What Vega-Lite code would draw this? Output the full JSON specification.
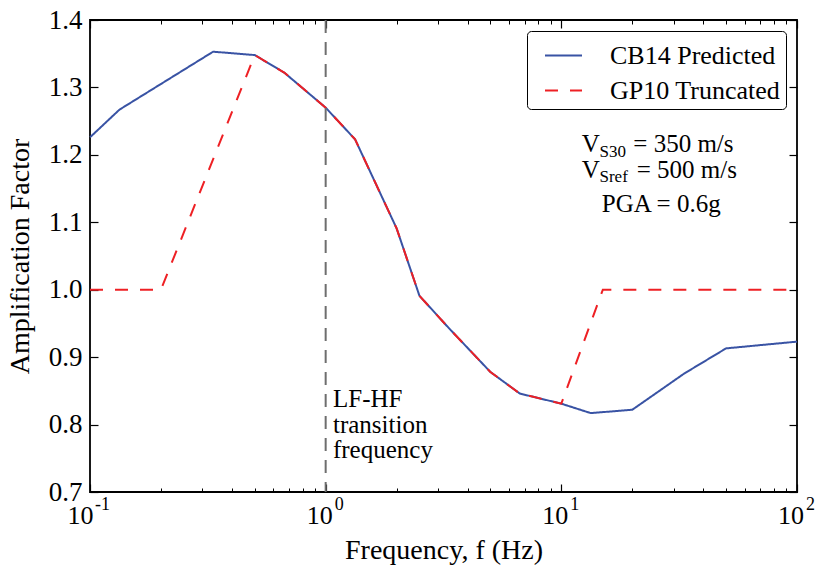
{
  "$schema": "https://vega.github.io/schema/vega-lite/v6.json",
  "autosize": "none",
  "width": 707,
  "height": 472,
  "padding": {"left": 90, "top": 20, "right": 22, "bottom": 80},
  "background": "white",
  "config": {
    "font": "Liberation Serif",
    "view": {"stroke": "black", "strokeWidth": 1.8},
    "axis": {"grid": false, "domain": false, "labelColor": "black", "tickColor": "black", "labelFontSize": 27, "titleFontSize": 28, "titleFontWeight": "normal", "titleColor": "black", "labelFlush": false, "labelOverlap": false, "labelBound": false}
  },
  "datasets": {
    "curves": [
      {"series": "CB14 Predicted", "f": 0.1, "amp": 1.226},
      {"series": "CB14 Predicted", "f": 0.1333, "amp": 1.267},
      {"series": "CB14 Predicted", "f": 0.333, "amp": 1.353},
      {"series": "CB14 Predicted", "f": 0.5, "amp": 1.348},
      {"series": "CB14 Predicted", "f": 0.667, "amp": 1.322},
      {"series": "CB14 Predicted", "f": 1.0, "amp": 1.270},
      {"series": "CB14 Predicted", "f": 1.333, "amp": 1.223},
      {"series": "CB14 Predicted", "f": 2.0, "amp": 1.091},
      {"series": "CB14 Predicted", "f": 2.5, "amp": 0.991},
      {"series": "CB14 Predicted", "f": 3.333, "amp": 0.943},
      {"series": "CB14 Predicted", "f": 5.0, "amp": 0.878},
      {"series": "CB14 Predicted", "f": 6.667, "amp": 0.846},
      {"series": "CB14 Predicted", "f": 10.0, "amp": 0.831},
      {"series": "CB14 Predicted", "f": 13.33, "amp": 0.817},
      {"series": "CB14 Predicted", "f": 20.0, "amp": 0.822},
      {"series": "CB14 Predicted", "f": 33.33, "amp": 0.876},
      {"series": "CB14 Predicted", "f": 50.0, "amp": 0.913},
      {"series": "CB14 Predicted", "f": 100.0, "amp": 0.923},
      {"series": "GP10 Truncated", "f": 0.1, "amp": 1.0},
      {"series": "GP10 Truncated", "f": 0.2, "amp": 1.0},
      {"series": "GP10 Truncated", "f": 0.5, "amp": 1.348},
      {"series": "GP10 Truncated", "f": 0.667, "amp": 1.322},
      {"series": "GP10 Truncated", "f": 1.0, "amp": 1.270},
      {"series": "GP10 Truncated", "f": 1.333, "amp": 1.223},
      {"series": "GP10 Truncated", "f": 2.0, "amp": 1.091},
      {"series": "GP10 Truncated", "f": 2.5, "amp": 0.991},
      {"series": "GP10 Truncated", "f": 3.333, "amp": 0.943},
      {"series": "GP10 Truncated", "f": 5.0, "amp": 0.878},
      {"series": "GP10 Truncated", "f": 6.667, "amp": 0.846},
      {"series": "GP10 Truncated", "f": 10.0, "amp": 0.831},
      {"series": "GP10 Truncated", "f": 15.0, "amp": 1.0},
      {"series": "GP10 Truncated", "f": 100.0, "amp": 1.0}
    ],
    "mainText": [
      {"t": "V", "f": 12.2, "amp": 1.2042},
      {"t": "= 350 m/s", "f": 20.2, "amp": 1.2042},
      {"t": "V", "f": 12.2, "amp": 1.1652},
      {"t": "= 500 m/s", "f": 20.88, "amp": 1.1652},
      {"t": "PGA = 0.6g", "f": 14.84, "amp": 1.1148}
    ],
    "subText": [
      {"t": "S30", "f": 14.52, "amp": 1.1973},
      {"t": "Sref", "f": 14.52, "amp": 1.1593}
    ],
    "noteText": [
      {"t": "LF-HF", "f": 1.074, "amp": 0.8263},
      {"t": "transition", "f": 1.074, "amp": 0.7868},
      {"t": "frequency", "f": 1.074, "amp": 0.7497}
    ],
    "exponents": [
      {"t": "-1", "f": 0.1, "amp": 0.7},
      {"t": "0", "f": 1, "amp": 0.7},
      {"t": "1", "f": 10, "amp": 0.7},
      {"t": "2", "f": 100, "amp": 0.7}
    ],
    "transition": [{"f": 1.0}]
  },
  "resolve": {"axis": {"x": "independent", "y": "independent"}},
  "layer": [
    {
      "data": {"name": "curves"},
      "transform": [{"filter": "datum.series == 'CB14 Predicted'"}],
      "mark": {"type": "line", "strokeWidth": 2},
      "encoding": {
        "x": {"field": "f", "type": "quantitative", "scale": {"type": "log", "domain": [0.1, 100], "nice": false},
              "axis": {"orient": "bottom", "values": [0.1, 1, 10, 100], "tickSize": -8, "tickWidth": 1.2, "labelPadding": 18,
                       "labelExpr": "'10'", "labelFontSize": 26,
                       "labelOffset": {"condition": {"test": "datum.value < 0.5", "value": -10}, "value": -6.5},
                       "title": "Frequency, f (Hz)", "titlePadding": 8}},
        "y": {"field": "amp", "type": "quantitative", "scale": {"domain": [0.7, 1.4], "nice": false, "zero": false},
              "axis": {"orient": "left", "values": [0.7, 0.8, 0.9, 1.0, 1.1, 1.2, 1.3, 1.4], "format": ".1f", "tickSize": -8, "tickWidth": 1.2, "labelPadding": 16,
                       "title": "Amplification Factor", "titlePadding": 14}},
        "color": {"field": "series", "type": "nominal",
                  "scale": {"domain": ["CB14 Predicted", "GP10 Truncated"], "range": ["#3953a4", "#ee2024"]},
                  "legend": {"title": null, "orient": "top-right", "offset": 11, "strokeColor": "black", "fillColor": "white", "cornerRadius": 4,
                             "padding": 5, "symbolType": "stroke", "symbolSize": 1369, "symbolStrokeWidth": 2, "symbolOffset": 12,
                             "labelFontSize": 26, "labelColor": "black", "labelOffset": 27, "rowPadding": 2, "labelLimit": 400,
                             "labelExpr": "datum.label + '\u00a0'"}},
        "strokeDash": {"field": "series", "type": "nominal",
                       "scale": {"domain": ["CB14 Predicted", "GP10 Truncated"], "range": [[1, 0], [13, 12]]},
                       "legend": {"title": null, "orient": "top-right", "offset": 11, "strokeColor": "black", "fillColor": "white", "cornerRadius": 4,
                                  "padding": 5, "symbolType": "stroke", "symbolSize": 1369, "symbolStrokeWidth": 2, "symbolOffset": 12,
                                  "labelFontSize": 26, "labelColor": "black", "labelOffset": 27, "rowPadding": 2, "labelLimit": 400,
                                  "labelExpr": "datum.label + '\u00a0'"}}
      }
    },
    {
      "data": {"name": "curves"},
      "transform": [{"filter": "datum.series == 'GP10 Truncated'"}],
      "mark": {"type": "line", "strokeWidth": 2},
      "encoding": {
        "x": {"field": "f", "type": "quantitative", "scale": {"type": "log", "domain": [0.1, 100], "nice": false},
              "axis": {"orient": "bottom", "values": [0.2, 0.3, 0.4, 0.5, 0.6, 0.7, 0.8, 0.9, 2, 3, 4, 5, 6, 7, 8, 9, 20, 30, 40, 50, 60, 70, 80, 90], "tickSize": -4, "tickWidth": 1, "labels": false, "title": null}},
        "y": {"field": "amp", "type": "quantitative", "scale": {"domain": [0.7, 1.4], "nice": false, "zero": false},
              "axis": {"orient": "right", "values": [0.7, 0.8, 0.9, 1.0, 1.1, 1.2, 1.3, 1.4], "tickSize": -8, "tickWidth": 1.2, "labels": false, "title": null}},
        "color": {"field": "series", "type": "nominal"},
        "strokeDash": {"field": "series", "type": "nominal"}
      }
    },
    {
      "data": {"name": "transition"},
      "mark": {"type": "rule", "color": "#6e6e6e", "strokeWidth": 2, "strokeDash": [13, 9]},
      "encoding": {
        "x": {"field": "f", "type": "quantitative", "scale": {"type": "log", "domain": [0.1, 100], "nice": false},
              "axis": {"orient": "top", "values": [0.1, 1, 10, 100], "tickSize": -8, "tickWidth": 1.2, "labels": false, "title": null}}
      }
    },
    {
      "data": {"name": "mainText"},
      "mark": {"type": "text", "align": "left", "baseline": "alphabetic", "fontSize": 25, "color": "black"},
      "encoding": {
        "x": {"field": "f", "type": "quantitative", "scale": {"type": "log", "domain": [0.1, 100], "nice": false},
              "axis": {"orient": "top", "values": [0.2, 0.3, 0.4, 0.5, 0.6, 0.7, 0.8, 0.9, 2, 3, 4, 5, 6, 7, 8, 9, 20, 30, 40, 50, 60, 70, 80, 90], "tickSize": -4, "tickWidth": 1, "labels": false, "title": null}},
        "y": {"field": "amp", "type": "quantitative", "scale": {"domain": [0.7, 1.4], "nice": false, "zero": false}, "axis": null},
        "text": {"field": "t"}
      }
    },
    {
      "data": {"name": "subText"},
      "mark": {"type": "text", "align": "left", "baseline": "alphabetic", "fontSize": 17, "color": "black"},
      "encoding": {
        "x": {"field": "f", "type": "quantitative", "scale": {"type": "log", "domain": [0.1, 100], "nice": false}, "axis": null},
        "y": {"field": "amp", "type": "quantitative", "scale": {"domain": [0.7, 1.4], "nice": false, "zero": false}, "axis": null},
        "text": {"field": "t"}
      }
    },
    {
      "data": {"name": "noteText"},
      "mark": {"type": "text", "align": "left", "baseline": "alphabetic", "fontSize": 25, "color": "black"},
      "encoding": {
        "x": {"field": "f", "type": "quantitative", "scale": {"type": "log", "domain": [0.1, 100], "nice": false}, "axis": null},
        "y": {"field": "amp", "type": "quantitative", "scale": {"domain": [0.7, 1.4], "nice": false, "zero": false}, "axis": null},
        "text": {"field": "t"}
      }
    },
    {
      "data": {"name": "exponents"},
      "transform": [{"filter": "datum.f < 0.5"}],
      "mark": {"type": "text", "align": "left", "baseline": "alphabetic", "fontSize": 18, "color": "black", "dx": 5, "dy": 18},
      "encoding": {
        "x": {"field": "f", "type": "quantitative", "scale": {"type": "log", "domain": [0.1, 100], "nice": false}, "axis": null},
        "y": {"field": "amp", "type": "quantitative", "scale": {"domain": [0.7, 1.4], "nice": false, "zero": false}, "axis": null},
        "text": {"field": "t"}
      }
    },
    {
      "data": {"name": "exponents"},
      "transform": [{"filter": "datum.f > 0.5"}],
      "mark": {"type": "text", "align": "left", "baseline": "alphabetic", "fontSize": 18, "color": "black", "dx": 9, "dy": 18},
      "encoding": {
        "x": {"field": "f", "type": "quantitative", "scale": {"type": "log", "domain": [0.1, 100], "nice": false}, "axis": null},
        "y": {"field": "amp", "type": "quantitative", "scale": {"domain": [0.7, 1.4], "nice": false, "zero": false}, "axis": null},
        "text": {"field": "t"}
      }
    }
  ]
}
